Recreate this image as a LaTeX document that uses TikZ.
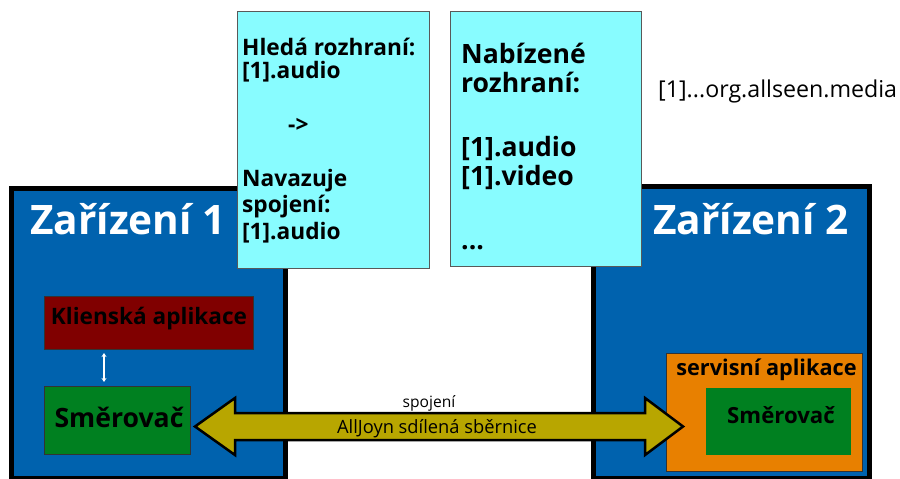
\documentclass[tikz,border=0pt]{standalone}
\usepackage{fontspec}
\setmainfont{Open Sans}
\usetikzlibrary{arrows.meta}
\definecolor{devblue}{HTML}{0062AE}
\definecolor{infocyan}{HTML}{88FCFF}
\definecolor{clientred}{HTML}{800000}
\definecolor{routergreen}{HTML}{008020}
\definecolor{servorange}{HTML}{E88000}
\definecolor{busolive}{HTML}{B8A600}
\tikzset{
  device/.style={draw=black, line width=5pt, fill=devblue, inner sep=0pt},
  infobox/.style={draw=black!65, line width=0.8pt, fill=infocyan, inner sep=0pt},
  appbox/.style={draw=black!80, line width=0.8pt, inner sep=0pt},
  title/.style={text=white, font=\bfseries\fontsize{40.6}{44}\selectfont, inner sep=0pt, anchor=base},
  boxlbl/.style={text=black, inner sep=0pt, anchor=base},
  infoA/.style={text=black, font=\bfseries\fontsize{22.7}{26}\selectfont, inner sep=0pt, anchor=base west},
  infoB/.style={text=black, font=\bfseries\fontsize{26.6}{30}\selectfont, inner sep=0pt, anchor=base west},
  plain/.style={text=black, inner sep=0pt, anchor=base},
}
\begin{document}
\begin{tikzpicture}[x=1pt,y=-1pt]
\useasboundingbox (0,0) rectangle (900,479);
\fill[white] (0,0) rectangle (900,479);

% devices
\node[device, minimum width=274pt, minimum height=290pt] (dev1) at (148.5,333.5) {};
\node[device, minimum width=276pt, minimum height=292pt] (dev2) at (731.5,332.5) {};
\node[title] (t1) at (128,234) {Zařízení 1};
\node[title] (t2) at (751,234) {Zařízení 2};

% info boxes
\node[infobox, minimum width=192pt, minimum height=257pt] (info1) at (333,139.5) {};
\node[infobox, minimum width=191pt, minimum height=255pt] (info2) at (545.5,138.5) {};

\node[infoA] (a1) at (242,55) {Hledá rozhraní:};
\node[infoA] (a2) at (242,78) {[1].audio};
\node[infoA] (a3) at (288,132) {->};
\node[infoA] (a4) at (242,186) {Navazuje};
\node[infoA] (a5) at (242,212) {spojení:};
\node[infoA] (a6) at (242,239) {[1].audio};

\node[infoB] (b1) at (461,63) {Nabízené};
\node[infoB] (b2) at (461,92) {rozhraní:};
\node[infoB] (b3) at (461,156) {[1].audio};
\node[infoB] (b4) at (461,185) {[1].video};
\node[infoB] (b5) at (461,249) {...};

\node[plain, font=\fontsize{23.2}{26}\selectfont, anchor=base west] (ns) at (658,97) {[1]...org.allseen.media};

% device 1 contents
\node[appbox, fill=clientred, minimum width=209pt, minimum height=53pt] (client) at (148.5,322.5) {};
\node[boxlbl, font=\bfseries\fontsize{22.6}{26}\selectfont] (clientlbl) at (149,324) {Klienská aplikace};
\node[appbox, fill=routergreen, minimum width=146pt, minimum height=68pt] (router1) at (117,420) {};
\node[boxlbl, font=\bfseries\fontsize{26.6}{30}\selectfont] (r1lbl) at (119,427) {Směrovač};
\coordinate (c1) at (104,353);
\coordinate (c2) at (104,382);
\draw[white, line width=1.2pt, {Stealth[length=4pt,width=5pt]}-{Stealth[length=4pt,width=5pt]}] (c1) -- (c2);

% device 2 contents
\node[appbox, fill=servorange, minimum width=196pt, minimum height=118pt] (serv) at (764,412) {};
\node[boxlbl, font=\bfseries\fontsize{21.7}{25}\selectfont] (servlbl) at (766.5,375) {servisní aplikace};
\node[appbox, draw=none, fill=routergreen, minimum width=145pt, minimum height=67pt] (router2) at (778.5,421.5) {};
\node[boxlbl, font=\bfseries\fontsize{22.2}{25}\selectfont] (r2lbl) at (781,423) {Směrovač};

% bus arrow
\coordinate (tipL) at (195,426.5);
\coordinate (tipR) at (683,426.5);
\draw[black, line width=2.5pt, line join=miter, fill=busolive]
  (tipL) -- (235,398) -- (235,413) -- (645,413) -- (645,398) -- (tipR)
  -- (645,455) -- (645,440) -- (235,440) -- (235,455) -- cycle;
\node[plain, font=\fontsize{18.3}{21}\selectfont] (bus) at (437,433) {AllJoyn sdílená sběrnice};
\node[plain, font=\fontsize{15.6}{18}\selectfont] (conn) at (429,407) {spojení};
\end{tikzpicture}
\end{document}
